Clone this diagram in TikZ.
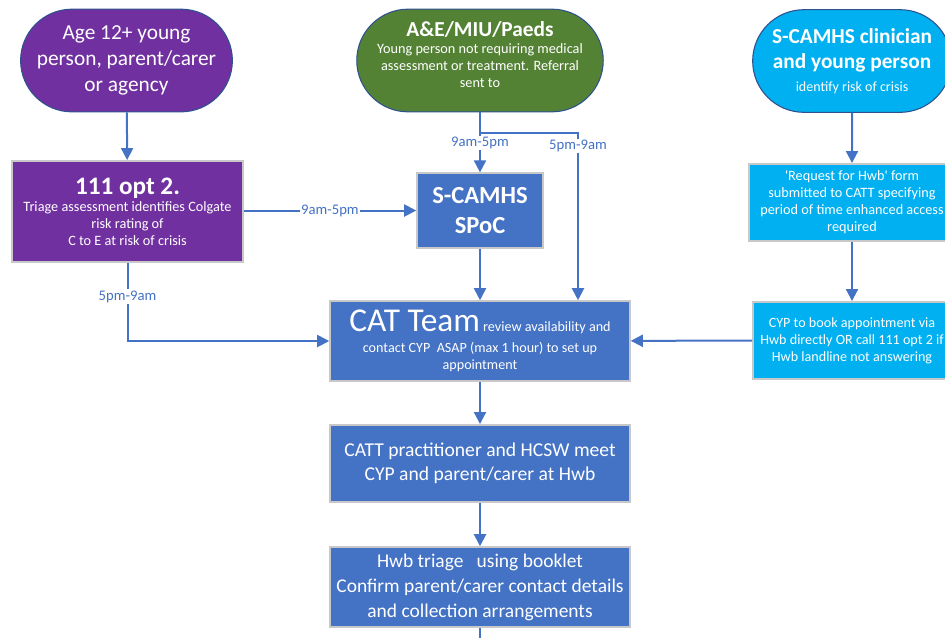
\documentclass[tikz,border=0pt]{standalone}
\usepackage{fontspec}
\setmainfont{Carlito}
\usetikzlibrary{positioning,arrows.meta,shapes.misc}
\definecolor{nhspurple}{HTML}{7030A0}
\definecolor{nhsgreen}{HTML}{548235}
\definecolor{nhsblue}{HTML}{4472C4}
\definecolor{nhscyan}{HTML}{00B0F0}
\definecolor{nhsedge}{HTML}{2F528F}
\definecolor{nhsrim}{HTML}{C8C8C8}
\newcommand{\setfs}[2]{\fontsize{#1}{#2}\selectfont}
\newcommand{\headb}{\setfs{16}{19}\bfseries}

\begin{document}
\begin{tikzpicture}[x=0.75pt,y=-0.75pt,
  terminal/.style={rounded rectangle,draw=nhsedge,line width=0.8pt,
    text=white,align=center,inner sep=2pt},
  stepbox/.style={rectangle,draw=nhsrim,line width=1.2pt,
    text=white,align=center,inner sep=2pt},
  flow/.style={nhsblue,line width=1.5pt,-{Triangle[length=9pt,width=9pt]}},
  timing/.style={fill=white,text=nhsblue,font=\setfs{11}{13},inner sep=1pt}]
  \useasboundingbox (0,0) rectangle (945,637);
  \clip (0,0) rectangle (945,637);
  % entry points
  \node[terminal,fill=nhspurple,minimum width=152pt,minimum height=77pt,
    font=\setfs{16}{19.5}] (young) at (126.5,60.5)
    {Age 12+ young\\person, parent/carer\\or agency};
  \node[terminal,fill=nhsgreen,minimum width=165pt,minimum height=77pt,
    font=\setfs{10.7}{12.75}] (ae) at (480,60.5)
    {{\headb A\&E/MIU/Paeds}\\Young person not requiring medical\\
     assessment or treatment. Referral\\sent to\\[-4pt]\mbox{}};
  \node[terminal,fill=nhscyan,minimum width=153pt,minimum height=77pt,
    font=\headb] (clin) at (852,61)
    {S-CAMHS clinician\\and young person\\[-2pt]{\mdseries\setfs{10.5}{12}identify risk of crisis}};
  % second row
  \node[stepbox,fill=nhspurple,minimum width=173pt,minimum height=76pt,
    font=\setfs{10.7}{12.75}] (opt) at (127.5,211.5)
    {{\setfs{18.9}{22}\bfseries 111 opt 2.}\\Triage assessment identifies Colgate\\
     risk rating of\\C to E at risk of crisis};
  \node[stepbox,fill=nhsblue,minimum width=94.5pt,minimum height=56pt,
    font=\setfs{18.4}{23}\bfseries] (spoc) at (480,210.5) {S-CAMHS\\SPoC};
  \node[stepbox,fill=nhscyan,minimum width=154.5pt,minimum height=58pt,
    font=\setfs{10.7}{12.75}] (form) at (852,202.5)
    {\textquotesingle Request for Hwb\textquotesingle\ form\\submitted to CATT specifying\\
     period of time enhanced access\\required};
  % crisis team
  \node[stepbox,fill=nhsblue,minimum width=225pt,minimum height=60pt,
    font=\setfs{10.6}{12.75}] (cat) at (480,341)
    {{\setfs{25}{26}CAT Team}\ review availability and\\[3pt]
     contact CYP\ \ ASAP (max 1 hour) to set up\\appointment};
  \node[stepbox,fill=nhscyan,minimum width=148.5pt,minimum height=58pt,
    font=\setfs{10.6}{12.75}] (book) at (852,340.5)
    {CYP to book appointment via\\Hwb directly OR call 111 opt 2 if\\
     Hwb landline not answering};
  \node[stepbox,fill=nhsblue,minimum width=225pt,minimum height=58pt,
    font=\setfs{14.7}{18}] (meet) at (480,463.5)
    {CATT practitioner and HCSW meet\\CYP and parent/carer at Hwb};
  \node[stepbox,fill=nhsblue,minimum width=225pt,minimum height=60pt,
    font=\setfs{14.6}{18.75}] (triage) at (480,587)
    {Hwb triage\ \ \ using booklet\\Confirm parent/carer contact details\\
     and collection arrangements};
  \coordinate (split) at (480,133);
  \coordinate (late) at (578,133);
  \coordinate (onward) at (480,645);
  % connectors
  \draw[flow] (young) -- (opt);
  \draw[flow] (opt.east |- spoc) -- node[timing] {9am-5pm} (spoc.west);
  \draw[flow] (ae.south) -- (split) -- node[timing,pos=.25] {9am-5pm} (spoc.north);
  \draw[flow] (split) -- (late) -- node[timing,pos=.077] {5pm-9am} (late |- cat.north);
  \draw[flow] (spoc) -- (cat);
  \draw[flow] (opt.south) |- node[timing,pos=.215] {5pm-9am} (cat.west);
  \draw[flow] (clin) -- (form);
  \draw[flow] (form) -- (book);
  \draw[flow] (book) -- (cat);
  \draw[flow] (cat) -- (meet);
  \draw[flow] (meet) -- (triage);
  \draw[flow,-] (triage) -- (onward);
\end{tikzpicture}
\end{document}
